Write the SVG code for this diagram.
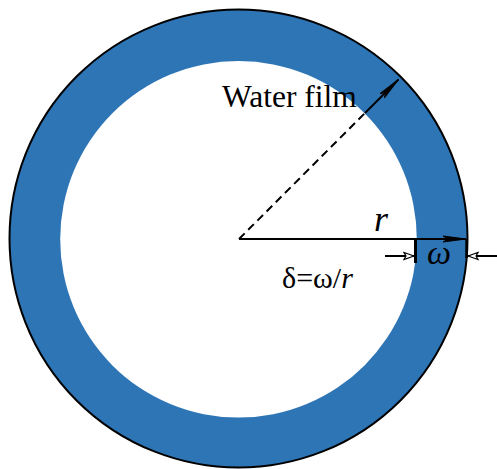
<svg xmlns="http://www.w3.org/2000/svg" width="497" height="469" viewBox="0 0 497 469">
<style>
.ln{stroke:#000;stroke-width:2;fill:none}
.t{font-family:"Liberation Serif","Times New Roman",serif;fill:#000}
</style>
<defs>
<marker id="ah" viewBox="0 0 24 8" refX="23" refY="4" markerWidth="24" markerHeight="8" markerUnits="userSpaceOnUse" orient="auto">
<path d="M0,1 L23,4 L0,7 L5,4 Z" fill="#000" stroke="#000" stroke-width="1"/>
</marker>
<marker id="oh" viewBox="0 0 12 10" refX="11" refY="5" markerWidth="12" markerHeight="10" markerUnits="userSpaceOnUse" orient="auto">
<path d="M1,1.5 L11,5 L1,8.5 L3,5 Z" fill="#fff" stroke="#000" stroke-width="1.2"/>
</marker>
</defs>
<g id="ring">
<circle cx="238.5" cy="238.5" r="229" fill="#2E75B6" stroke="#000" stroke-width="2"/>
<ellipse cx="238.5" cy="239.3" rx="178.3" ry="178.3" fill="#fff"/>
</g>
<g id="connectors">
<line class="ln" x1="239" y1="239" x2="365" y2="113" stroke-dasharray="8,5"/>
<line class="ln" x1="365" y1="113" x2="398.5" y2="79.5" marker-end="url(#ah)"/>
<line class="ln" x1="239" y1="239" x2="466" y2="239" marker-end="url(#ah)"/>
<line x1="415.5" y1="239" x2="415.5" y2="263" stroke="#000" stroke-width="3"/>
<line x1="466.5" y1="239" x2="466.5" y2="258" stroke="#000" stroke-width="2.5"/>
<line class="ln" x1="385" y1="256" x2="414" y2="256" marker-end="url(#oh)"/>
<line class="ln" x1="497" y1="256" x2="468" y2="256" marker-end="url(#oh)"/>
</g>
<g id="labels">
<text class="t" x="222" y="107" font-size="31.5">Water film</text>
<text class="t" x="374" y="231" font-size="36" font-style="italic">r</text>
<text class="t" x="427" y="264" font-size="34" font-style="italic">ω</text>
<text class="t" x="282" y="288" font-size="30">δ=ω/<tspan font-style="italic">r</tspan></text>
</g>
</svg>
